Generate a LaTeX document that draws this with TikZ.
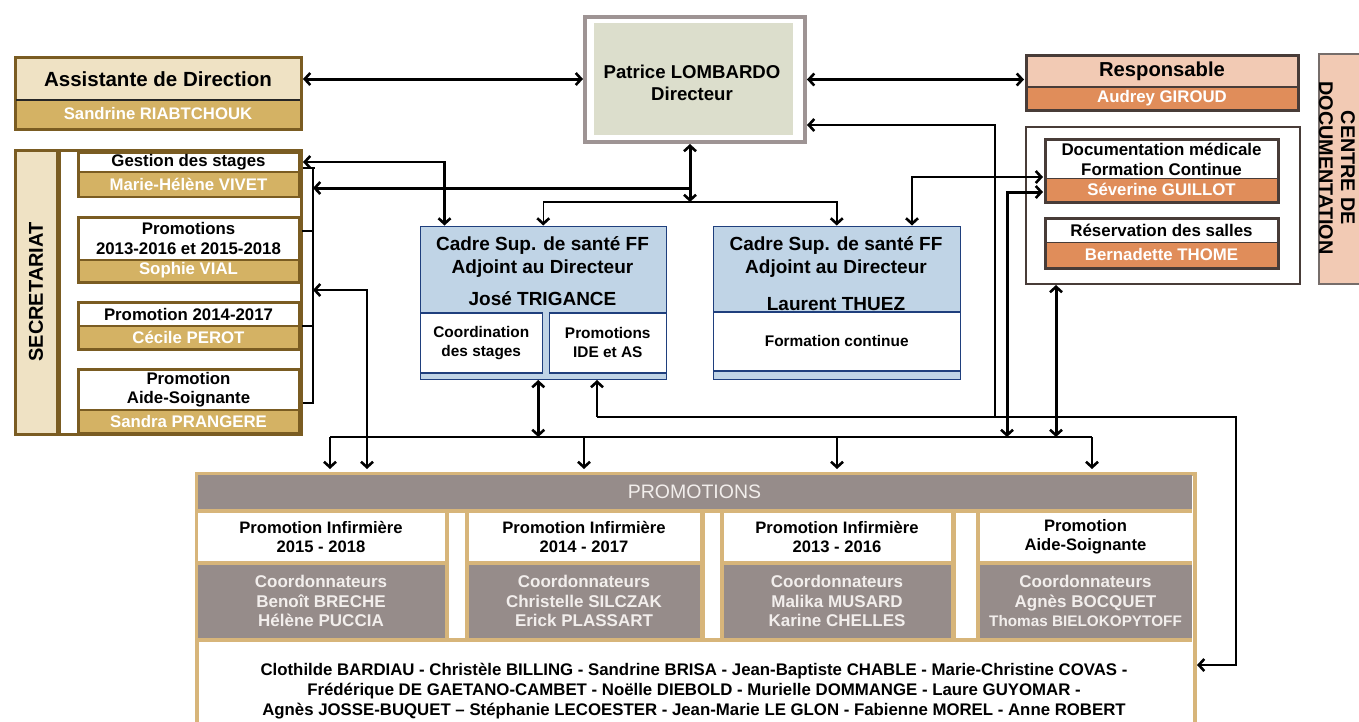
\documentclass[tikz,border=0pt]{standalone}
\usepackage{fontspec}
\setmainfont{Liberation Sans}
\usetikzlibrary{arrows.meta}

\definecolor{brownline}{RGB}{122,92,34}
\definecolor{beige}{RGB}{239,226,196}
\definecolor{gold}{RGB}{212,178,100}
\definecolor{dirframe}{RGB}{158,148,148}
\definecolor{dirfill}{RGB}{220,222,204}
\definecolor{peach}{RGB}{242,202,180}
\definecolor{docorange}{RGB}{224,141,90}
\definecolor{docframe}{RGB}{72,60,56}
\definecolor{cadfill}{RGB}{192,212,230}
\definecolor{cadframe}{RGB}{31,63,125}
\definecolor{promogray}{RGB}{150,140,138}
\definecolor{promotan}{RGB}{215,181,122}
\definecolor{lighttxt}{RGB}{242,238,236}

\tikzset{every picture/.style={line width=1pt}}
\tikzset{
  cell/.style={anchor=north west, inner sep=0pt, align=center},
  fs/.style 2 args={font=\fontsize{#1}{#2}\selectfont\bfseries},
  thinlink/.style={line width=1.5pt},
  midlink/.style={line width=2.4pt},
  boldlink/.style={line width=3pt},
  >={Straight Barb[length=5.5pt,width=12pt,line width=2.6pt]}
}

\begin{document}
\begin{tikzpicture}[x=1pt,y=1pt,yscale=-1,xscale=1]
\useasboundingbox (0,0) rectangle (1359,721);
\clip (0,0) rectangle (1359,721);
\fill[white] (0,0) rectangle (1359,721);

%Shape: Rectangle [Assistante de Direction]
\node[cell, fill=brownline, minimum width=289pt, minimum height=75pt] (adbox) at (13,55) {};
\node[cell, fill=beige, minimum width=283pt, minimum height=41pt, fs={20.5}{24}] (ad) at (16,58) {Assistante de Direction};
\node[cell, fill=gold, text=white, minimum width=283pt, minimum height=27pt, fs={16.7}{20}] (adname) at (16,100) {Sandrine RIABTCHOUK};
\draw[line width=1.5pt, black!85] (ad.south west) -- (ad.south east);

%Shape: Rectangle [Secretariat]
\node[cell, fill=brownline, minimum width=289pt, minimum height=287pt] (secbox) at (13,148) {};
\node[cell, fill=beige, minimum width=39pt, minimum height=281pt] (seclab) at (16,151) {};
\node[cell, fill=white, minimum width=239pt, minimum height=281pt] (secin) at (60,151) {};
% Text Node
\node[rotate=90, fs={20}{24}] (sectxt) at (seclab.center) {SECRETARIAT};

%Shape: Rectangle [Gestion des stages]
\node[cell, fill=brownline, minimum width=223pt, minimum height=46pt] (sf1) at (76,151) {};
\node[cell, fill=white, minimum width=218pt, minimum height=17pt, fs={16.8}{19}] (s1) at (79,153) {Gestion des stages};
\node[cell, fill=gold, text=white, minimum width=218pt, minimum height=23pt, fs={16.8}{19}] (s1name) at (79,172) {Marie-Hélène VIVET};
%Shape: Rectangle [Promotions 2013-2016 et 2015-2018]
\node[cell, fill=brownline, minimum width=223pt, minimum height=68pt] (sf2) at (76,215) {};
\node[cell, fill=white, minimum width=218pt, minimum height=40pt, fs={16.8}{20}] (s2) at (79,218) {Promotions\\2013-2016 et 2015-2018};
\node[cell, fill=gold, text=white, minimum width=218pt, minimum height=20pt, fs={16.8}{19}] (s2name) at (79,260) {Sophie VIAL};
%Shape: Rectangle [Promotion 2014-2017]
\node[cell, fill=brownline, minimum width=223pt, minimum height=50pt] (sf3) at (76,300) {};
\node[cell, fill=white, minimum width=218pt, minimum height=21pt, fs={16.8}{19}] (s3) at (79,303) {Promotion 2014-2017};
\node[cell, fill=gold, text=white, minimum width=218pt, minimum height=21pt, fs={16.8}{19}] (s3name) at (79,326) {Cécile PEROT};
%Shape: Rectangle [Promotion Aide-Soignante]
\node[cell, fill=brownline, minimum width=223pt, minimum height=66pt] (sf4) at (76,367) {};
\node[cell, fill=white, minimum width=218pt, minimum height=38pt, fs={16.8}{19}] (s4) at (79,370) {Promotion\\Aide-Soignante};
\node[cell, fill=gold, text=white, minimum width=218pt, minimum height=21pt, fs={16.8}{19}] (s4name) at (79,410) {Sandra PRANGERE};

%Straight Lines [bracket of the secretariat]
\coordinate (brkT) at (315,168);
\coordinate (brkB) at (313,403);
\draw[line width=1.3pt] (brkT -| secbox.east) -- (brkT);
\draw[line width=1.3pt] (brkT -| brkB) -- (brkB) -- (brkB -| secbox.east);
\draw[line width=1.3pt] (302,231) -- (313,231);
\draw[line width=1.3pt] (302,326) -- (313,326);

%Shape: Rectangle [Directeur]
\node[cell, draw=dirframe, line width=4pt, fill=white, minimum width=220pt, minimum height=125pt] (dir) at (583,15) {};
\node[cell, fill=dirfill, minimum width=199pt, minimum height=112pt] (dirin) at (593,22) {};
% Text Node
\node[fs={18.6}{22}, align=center] (dirtxt) at (692,83) {Patrice LOMBARDO\\Directeur};

%Shape: Rectangle [Responsable]
\node[cell, fill=docframe, minimum width=275pt, minimum height=58pt] (resp) at (1024,53) {};
\node[cell, fill=peach, minimum width=269pt, minimum height=29pt, fs={20.2}{24}] (resptitle) at (1027,56) {Responsable};
\node[cell, fill=docorange, text=white, minimum width=269pt, minimum height=21pt, fs={16.8}{19}] (respname) at (1027,87) {Audrey GIROUD};

%Shape: Rectangle [Centre de documentation]
\node[cell, draw=docframe!75, line width=1.5pt, fill=peach, minimum width=46pt, minimum height=230pt] (cdoc) at (1318,53) {};
% Text Node
\node[rotate=-90, fs={19.8}{22}, align=center] (cdoctxt) at (1337,168) {CENTRE DE\\DOCUMENTATION};

%Shape: Rectangle [documentation]
\node[cell, draw=docframe, line width=2pt, fill=white, minimum width=274pt, minimum height=157pt] (docgrp) at (1025,126) {};
\node[cell, fill=docframe, minimum width=236pt, minimum height=66pt] (docmed) at (1043,137) {};
\node[cell, fill=white, minimum width=230pt, minimum height=37pt, fs={16.9}{20}] (docmedtitle) at (1046,140) {Documentation médicale\\Formation Continue};
\node[cell, fill=docorange, text=white, minimum width=230pt, minimum height=22pt, fs={16.8}{19}] (docmedname) at (1046,178) {Séverine GUILLOT};
\node[cell, fill=docframe, minimum width=236pt, minimum height=53pt] (resa) at (1043,216) {};
\node[cell, fill=white, minimum width=230pt, minimum height=22pt, fs={16.9}{19}] (resatitle) at (1046,219) {Réservation des salles};
\node[cell, fill=docorange, text=white, minimum width=230pt, minimum height=24pt, fs={16.8}{19}] (resaname) at (1046,242) {Bernadette THOME};

%Shape: Rectangle [Cadre 1]
\node[cell, draw=cadframe, line width=1.5pt, fill=cadfill, minimum width=246pt, minimum height=153pt] (cad1) at (419.5,225.5) {};
\node[fs={19}{23}, anchor=north, align=center] (cad1txt) at (542.5,233) {Cadre Sup. de santé FF\\Adjoint au Directeur\\[9pt]José TRIGANCE};
\node[cell, draw=cadframe, line width=1.5pt, fill=white, minimum width=122pt, minimum height=60pt, fs={15.4}{19}] (coord) at (419.5,312) {Coordination\\des stages};
\node[cell, draw=cadframe, line width=1.5pt, fill=white, minimum width=117pt, minimum height=60pt, fs={15.4}{19}] (pide) at (548.5,312) {Promotions\\IDE et AS};

%Shape: Rectangle [Cadre 2]
\node[cell, draw=cadframe, line width=1.5pt, fill=cadfill, minimum width=247pt, minimum height=153pt] (cad2) at (712.5,225.5) {};
\node[fs={19}{23}, anchor=north, align=center] (cad2txt) at (836,233) {Cadre Sup. de santé FF\\Adjoint au Directeur\\[14pt]Laurent THUEZ};
\node[cell, draw=cadframe, line width=1.5pt, fill=white, minimum width=247pt, minimum height=59pt, fs={15.4}{19}] (fc) at (712.5,311) {Formation continue};

%Shape: Rectangle [Promotions]
\node[cell, draw=promotan, line width=4pt, fill=white, minimum width=998pt, minimum height=300pt] (promo) at (195,472) {};
\node[cell, fill=promogray, text=lighttxt, minimum width=994pt, minimum height=34pt, font=\fontsize{19.5}{22}\selectfont] (phead) at (197,474) {PROMOTIONS};
\node[cell, fill=promotan, minimum width=994pt, minimum height=133pt] (prow) at (197,508) {};
\node[cell, fill=white, minimum width=16pt, minimum height=125pt] (gap1) at (448,512) {};
\node[cell, fill=white, minimum width=15pt, minimum height=125pt] (gap2) at (704,512) {};
\node[cell, fill=white, minimum width=20pt, minimum height=125pt] (gap3) at (955,512) {};
% Text Node
\node[cell, fill=white, minimum width=247pt, minimum height=48pt, fs={16.6}{19}] (pt1) at (197,512) {Promotion Infirmière\\2015 - 2018};
\node[cell, fill=white, minimum width=231pt, minimum height=48pt, fs={16.6}{19}] (pt2) at (468,512) {Promotion Infirmière\\2014 - 2017};
\node[cell, fill=white, minimum width=227pt, minimum height=48pt, fs={16.6}{19}] (pt3) at (723,512) {Promotion Infirmière\\2013 - 2016};
\node[cell, fill=white, minimum width=212pt, minimum height=48pt, fs={16.6}{19}] (pt4) at (979,512) {Promotion\\Aide-Soignante};
\node[cell, fill=promogray, text=lighttxt, minimum width=247pt, minimum height=73pt, fs={17}{19.5}] (pc1) at (197,564) {Coordonnateurs\\Benoît BRECHE\\Hélène PUCCIA};
\node[cell, fill=promogray, text=lighttxt, minimum width=231pt, minimum height=73pt, fs={17}{19.5}] (pc2) at (468,564) {Coordonnateurs\\Christelle SILCZAK\\Erick PLASSART};
\node[cell, fill=promogray, text=lighttxt, minimum width=227pt, minimum height=73pt, fs={17}{19.5}] (pc3) at (723,564) {Coordonnateurs\\Malika MUSARD\\Karine CHELLES};
\node[cell, fill=promogray, text=lighttxt, minimum width=212pt, minimum height=73pt, fs={17}{19.5}] (pc4) at (979,564) {Coordonnateurs\\Agnès BOCQUET\\{\fontsize{15.3}{19.5}\selectfont Thomas BIELOKOPYTOFF}};
% Text Node
\node[fs={16.8}{20}, align=center] (names) at (694,691) {Clothilde BARDIAU - Christèle BILLING - Sandrine BRISA - Jean-Baptiste CHABLE - Marie-Christine COVAS -\\Frédérique DE GAETANO-CAMBET - Noëlle DIEBOLD - Murielle DOMMANGE - Laure GUYOMAR -\\Agnès JOSSE-BUQUET – Stéphanie LECOESTER - Jean-Marie LE GLON - Fabienne MOREL - Anne ROBERT};

%Straight Lines [connectors]
\coordinate (jdir) at (690,202);
\coordinate (brkA) at (313,188);
\coordinate (brkC) at (313,290);
\coordinate (bus1) at (330,437);
\coordinate (bus4) at (1092,437);
\coordinate (loopA) at (597,417);
\coordinate (loopB) at (1236,417);
\coordinate (loopC) at (1236,665);
\coordinate (loopD) at (995,125);
\coordinate (docA) at (912,177);
\coordinate (docB) at (1007,192);
\coordinate (docC) at (1056,437);

\draw[boldlink,<->] (ad.east -| adbox.east) -- (ad.east -| dir.west);
\draw[boldlink,<->] (dir.east) -- (dir.east -| resp.west);
\draw[boldlink,<->] (jdir |- dir.south) -- (jdir);
\draw[thinlink,<->] (cad1.north) |- (jdir) -| (cad2.north);
\draw[boldlink,<-] (brkA) -- (brkA -| jdir);
\draw[midlink,<->] (s1.east -| secbox.east) -| ([xshift=25pt]cad1.north west);
\draw[midlink,<->,shorten >=3pt] (brkC) -| ([xshift=172pt]promo.north west);
\draw[thinlink] (bus1) -- (bus4);
\draw[thinlink,->,shorten >=3pt] (bus1) -- (bus1 |- promo.north);
\draw[thinlink,->,shorten >=3pt] (pt2.north |- bus1) -- (pt2.north |- promo.north);
\draw[thinlink,->,shorten >=3pt] (pt3.north |- bus1) -- (pt3.north |- promo.north);
\draw[thinlink,->,shorten >=3pt] (bus4) -- (bus4 |- promo.north);
\draw[boldlink,<->] ([xshift=-5pt]cad1.south) -- ([xshift=-5pt]cad1.south |- bus1);
\draw[midlink,<-] (loopA |- cad1.south) -- (loopA);
\draw[thinlink,->] (loopA) -- (loopB) -- (loopC) -- (loopC -| promo.east);
\draw[thinlink,<-] (loopD -| dir.east) -- (loopD) -- (loopD |- loopA);
\draw[midlink,<->] (docA |- cad2.north) -- (docA) -- (docA -| docmed.west);
\draw[boldlink,<->] (docB -| docmed.west) -- (docB) -- (docB |- bus1);
\draw[boldlink,<->] (docC |- docgrp.south) -- (docC);

\end{tikzpicture}
\end{document}
